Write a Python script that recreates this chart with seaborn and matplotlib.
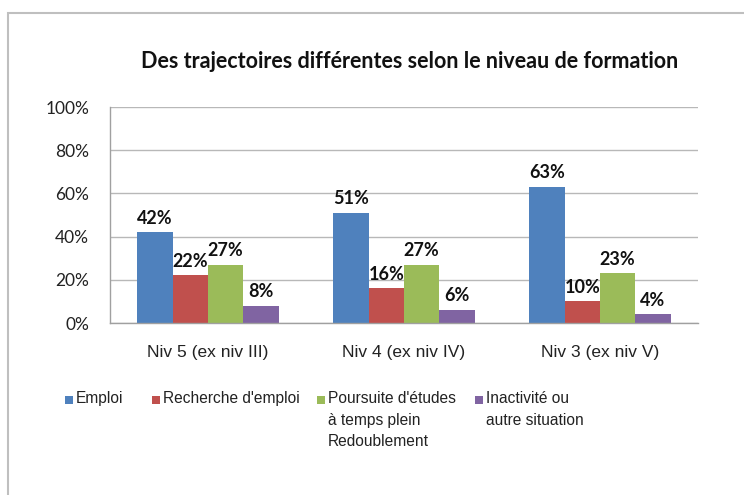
import matplotlib
matplotlib.use("Agg")
import matplotlib.pyplot as plt
import seaborn as sns
import pandas as pd
from matplotlib.patches import Rectangle
from matplotlib.ticker import PercentFormatter

categories = ["Niv 5 (ex niv III)", "Niv 4 (ex niv IV)", "Niv 3 (ex niv V)"]
series_names = ["Emploi", "Recherche d'emploi",
                "Poursuite d'études\nà temps plein\nRedoublement",
                "Inactivité ou\nautre situation"]
emploi = [42, 51, 63]
recherche = [22, 16, 10]
poursuite = [27, 27, 23]
inactivite = [8, 6, 4]
colors = ["#4F81BD", "#C0504D", "#9BBB59", "#8064A2"]
title = "Des trajectoires différentes selon le niveau de formation"

rows = []
for name, vals in zip(series_names, [emploi, recherche, poursuite, inactivite]):
    for c, v in zip(categories, vals):
        rows.append({"cat": c, "serie": name, "val": v})
df = pd.DataFrame(rows)

sns.set_theme(style="white")
calib = ["Lato", "DejaVu Sans"]
arial = ["Liberation Sans", "DejaVu Sans"]

fig = plt.figure(figsize=(7.44, 4.95), dpi=100)
ax = fig.add_axes([110/744, 172/495, 588/744, 216/495])

sns.barplot(data=df, x="cat", y="val", hue="serie", order=categories,
            hue_order=series_names, palette=colors, width=0.72, gap=0,
            saturation=1, ax=ax, legend=False, edgecolor="none")

ax.set_ylim(0, 100)
ax.set_xlim(-0.5, 2.5)
ax.set_yticks([0, 20, 40, 60, 80, 100])
ax.yaxis.set_major_formatter(PercentFormatter(decimals=0))
ax.grid(axis="y", color="#b8b8b8", linewidth=1)
ax.set_axisbelow(True)
for s in ["top", "right"]:
    ax.spines[s].set_visible(False)
for s in ["left", "bottom"]:
    ax.spines[s].set_color("#a0a0a0")
    ax.spines[s].set_linewidth(1)
ax.set_xlabel("")
ax.set_ylabel("")
ax.tick_params(axis="y", pad=15, length=0, labelsize=12.5, labelcolor="#222222")
ax.tick_params(axis="x", pad=16, length=0, labelsize=12.5, labelcolor="#222222")
for t in ax.get_yticklabels():
    t.set_family(calib)
for t in ax.get_xticklabels():
    t.set_family(arial)

for cont in ax.containers:
    ax.bar_label(cont, labels=[f"{int(v)}%" for v in cont.datavalues],
                 padding=4, fontsize=13, fontweight="bold", family=calib,
                 color="#111111")

fig.text(0.551, 1 - 61/495, title, ha="center", va="center",
         fontsize=15.5, fontweight="bold", family=calib, color="#111111")

# legend
lx = [65, 152, 317, 475]
for name, col, x in zip(series_names, colors, lx):
    fig.patches.append(Rectangle((x/744, 1 - 404/495), 8/744, 8/495,
                                 transform=fig.transFigure, facecolor=col,
                                 edgecolor="none"))
    fig.text((x + 11)/744, 1 - 391/495, name, ha="left", va="top",
             fontsize=11.2, family=arial, color="#222222", linespacing=1.55)

# outer frame
fig.patches.append(Rectangle((8/744, -0.05), 1.0, 1 - 13/495 + 0.05,
                             transform=fig.transFigure, facecolor="none",
                             edgecolor="#bfbfbf", linewidth=1.5))

fig.savefig("out.png", dpi=100)
